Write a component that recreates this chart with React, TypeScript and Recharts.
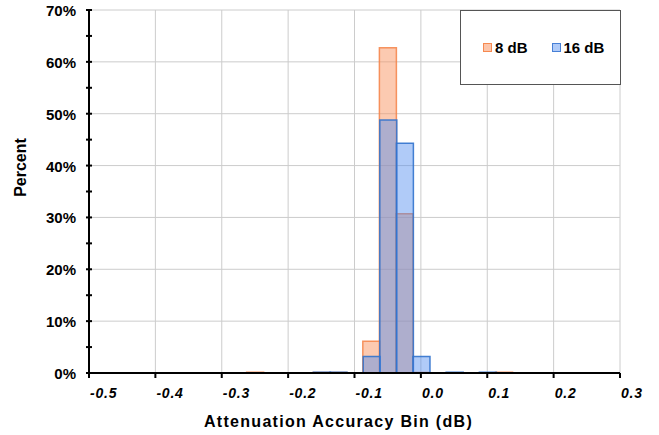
import React from 'react';
import { ComposedChart, Bar, XAxis, YAxis, CartesianGrid, Legend, Label } from 'recharts';

// Bin centres (dB)
const bins = [-0.25, -0.15, -0.125, -0.075, -0.05, -0.025, 0, 0.05, 0.1, 0.125];
// Percent of samples per bin
const series8dB = [0.15, 0.1, 0.1, 6.1, 62.7, 30.7, 0.1, null, null, 0.15];
const series16dB = [null, 0.15, 0.15, 3.2, 48.8, 44.3, 3.2, 0.15, 0.15, null];

const xTicks = [-0.5, -0.4, -0.3, -0.2, -0.1, 0, 0.1, 0.2, 0.3];
const xGrid = [-0.4, -0.3, -0.2, -0.1, 0, 0.1, 0.2, 0.3];
const yTicks = [0, 5, 10, 15, 20, 25, 30, 35, 40, 45, 50, 55, 60, 65, 70];
const yGrid = [10, 20, 30, 40, 50, 60, 70];

const seriesNames = ['8 dB', '16 dB'];

const data = bins.map((b, i) => ({ bin: b, s8: series8dB[i], s16: series16dB[i] }));

const FONT = '"Liberation Sans", Arial, sans-serif';

const XTick = (props: any) => {
  const { x, y, payload } = props;
  return (
    <text x={x + 1} y={y + 20} fontFamily={FONT} fontSize={14} letterSpacing={0.8} fontWeight="bold" fontStyle="italic" fill="#000" textAnchor="start">
      {Number(payload.value).toFixed(1)}
    </text>
  );
};

const YTick = (props: any) => {
  const { x, y, payload } = props;
  const v = Number(payload.value);
  return (
    <g>
      <line x1={x - 3} x2={x + 3} y1={y} y2={y} stroke="#000" strokeWidth={2} />
      {v % 10 === 0 ? (
        <text x={x - 13} y={y + 6} fontFamily={FONT} fontSize={15} fontWeight="bold" fill="#000" textAnchor="end">
          {v + '%'}
        </text>
      ) : null}
    </g>
  );
};

const LegendBox = () => (
  <div
    style={{
      width: 161,
      height: 75,
      boxSizing: 'border-box',
      border: '1px solid #555',
      background: '#fff',
      display: 'flex',
      alignItems: 'center',
      fontFamily: FONT,
      fontSize: 15,
      fontWeight: 'bold',
      color: '#000',
      paddingLeft: 22,
    }}
  >
    <span style={{ display: 'inline-block', width: 7, height: 7, background: 'rgba(250,150,100,0.55)', border: '1px solid rgba(245,130,70,0.9)', marginRight: 3 }} />
    <span style={{ lineHeight: '15px' }}>{seriesNames[0]}</span>
    <span style={{ display: 'inline-block', width: 7, height: 7, background: 'rgba(80,140,240,0.45)', border: '1px solid rgba(60,120,210,0.9)', marginLeft: 24, marginRight: 3 }} />
    <span style={{ lineHeight: '15px' }}>{seriesNames[1]}</span>
  </div>
);

export default function App() {
  return (
    <div style={{ position: 'absolute', left: 0, top: 0, width: 659, height: 435, background: '#fff' }}>
      <ComposedChart
        width={659}
        height={435}
        data={data}
        margin={{ top: 10, right: 39, bottom: 22, left: 0 }}
        barGap="-100%"
        barCategoryGap={0}
      >
        <CartesianGrid stroke="#cccccc" strokeWidth={1} horizontalValues={yGrid} verticalValues={xGrid} />
        <XAxis
          type="number"
          dataKey="bin"
          domain={[-0.5, 0.3]}
          ticks={xTicks}
          interval={0}
          allowDataOverflow
          height={40}
          tickSize={5}
          tickMargin={0}
          axisLine={{ stroke: '#000', strokeWidth: 2 }}
          tickLine={{ stroke: '#000', strokeWidth: 2 }}
          tick={<XTick />}
        >
          <Label
            content={(p: any) => {
              const vb = p.viewBox;
              return (
                <text x={vb.x + vb.width / 2 - 16} y={vb.y + 54} fontFamily={FONT} fontSize={16} letterSpacing={1.3} fontWeight="bold" fill="#000" textAnchor="middle">
                  Attenuation Accuracy Bin (dB)
                </text>
              );
            }}
          />
        </XAxis>
        <YAxis
          type="number"
          domain={[0, 70]}
          ticks={yTicks}
          interval={0}
          allowDataOverflow
          width={89}
          tickSize={0}
          tickMargin={0}
          axisLine={{ stroke: '#000', strokeWidth: 2 }}
          tickLine={false}
          tick={<YTick />}
        >
          <Label
            content={(p: any) => {
              const vb = p.viewBox;
              const cy = vb.y + vb.height / 2 - 24;
              return (
                <text transform={`translate(26,${cy}) rotate(-90)`} fontFamily={FONT} fontSize={16} fontWeight="bold" fill="#000" textAnchor="middle">
                  Percent
                </text>
              );
            }}
          />
        </YAxis>
        <Legend
          layout="horizontal"
          verticalAlign="middle"
          align="center"
          content={() => <LegendBox />}
          wrapperStyle={{ position: 'absolute', left: 460, top: 10, width: 161, height: 75 }}
        />
        <Bar
          dataKey="s8"
          name={seriesNames[0]}
          fill="rgb(250,150,100)"
          fillOpacity={0.5}
          stroke="rgb(245,130,70)"
          strokeOpacity={0.85}
          strokeWidth={1.5}
          isAnimationActive={false}
        />
        <Bar
          dataKey="s16"
          name={seriesNames[1]}
          fill="rgb(80,140,240)"
          fillOpacity={0.45}
          stroke="rgb(50,115,205)"
          strokeOpacity={0.9}
          strokeWidth={1.5}
          isAnimationActive={false}
        />
      </ComposedChart>
    </div>
  );
}
